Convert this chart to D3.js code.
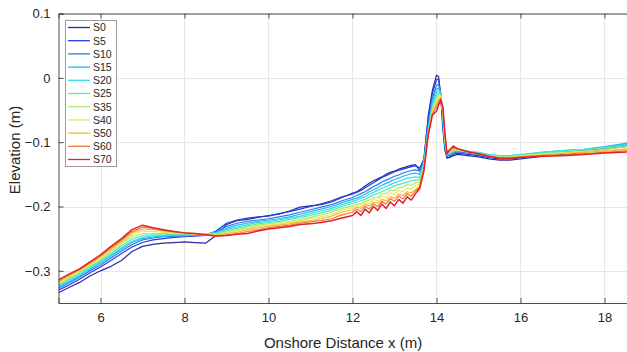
<!DOCTYPE html>
<html>
<head>
<meta charset="utf-8">
<script src="https://cdn.jsdelivr.net/npm/d3@7"></script>
<style>
  html, body { margin: 0; padding: 0; background: #fff; }
  svg { display: block; }
  text { font-family: "Liberation Sans", Arial, Helvetica, sans-serif; }
</style>
</head>
<body>
<svg id="chart" width="627" height="352"></svg>
<script>
// Onshore distance (m) at which each survey profile is sampled
const xs = [5.0,5.25,5.5,5.75,6.0,6.25,6.5,6.75,7.0,7.25,7.5,7.75,8.0,8.25,8.5,8.75,9.0,9.25,9.5,9.75,10.0,10.25,10.5,10.75,11.0,11.25,11.5,11.75,12.0,
  12.1,12.2,12.3,12.4,12.5,12.6,12.7,12.8,12.9,13.0,13.1,13.2,13.3,13.4,13.5,13.6,13.7,13.8,13.9,
  14.0,14.05,14.1,14.15,14.2,14.25,14.3,14.4,14.5,14.75,15.0,15.25,15.5,15.75,16.0,16.5,17.0,17.5,18.0,18.6];

const seriesNames = ["S0","S5","S10","S15","S20","S25","S35","S40","S50","S60","S70"];
const seriesColors = ["#2a2aa0","#1f3fe0","#2a7ae6","#2cb2f2","#2ee2ee","#58e6b4","#a8ee72","#f2e64c","#f4b43a","#f07838","#e0222a"];

// Bed elevation (m) for each survey, one value per xs entry
const S0 = [-0.334,-0.326,-0.318,-0.308,-0.300,-0.293,-0.284,-0.270,-0.262,-0.259,-0.257,-0.256,-0.255,-0.256,-0.257,
  -0.245,-0.228,-0.222,-0.220,-0.217,-0.214,-0.212,-0.207,-0.201,-0.199,-0.197,-0.193,-0.186,-0.179,
  -0.177,-0.173,-0.168,-0.164,-0.160,-0.157,-0.154,-0.150,-0.147,-0.145,-0.142,-0.140,-0.138,-0.136,-0.135,-0.144,-0.128,-0.060,-0.020,
  0.004,0.002,-0.028,-0.078,-0.112,-0.125,-0.124,-0.121,-0.119,-0.121,-0.123,-0.126,-0.128,-0.128,-0.126,-0.122,-0.119,-0.116,-0.111,-0.105];
const S5 = [-0.330,-0.322,-0.313,-0.303,-0.294,-0.284,-0.273,-0.263,-0.256,-0.252,-0.250,-0.248,-0.247,-0.246,-0.245,
  -0.238,-0.226,-0.221,-0.218,-0.216,-0.215,-0.211,-0.208,-0.204,-0.200,-0.196,-0.191,-0.185,-0.181,
  -0.178,-0.175,-0.171,-0.167,-0.163,-0.159,-0.155,-0.152,-0.149,-0.146,-0.144,-0.142,-0.140,-0.138,-0.137,-0.140,-0.126,-0.066,-0.025,
  -0.003,-0.002,-0.026,-0.072,-0.110,-0.124,-0.123,-0.119,-0.117,-0.119,-0.121,-0.124,-0.126,-0.126,-0.124,-0.120,-0.117,-0.114,-0.109,-0.103];
const S10 = [-0.327,-0.319,-0.310,-0.300,-0.291,-0.280,-0.269,-0.259,-0.252,-0.249,-0.247,-0.246,-0.246,-0.245,-0.244,
  -0.239,-0.231,-0.226,-0.223,-0.221,-0.219,-0.216,-0.213,-0.209,-0.205,-0.201,-0.197,-0.191,-0.186,
  -0.183,-0.180,-0.177,-0.173,-0.169,-0.166,-0.162,-0.159,-0.156,-0.153,-0.151,-0.148,-0.146,-0.144,-0.143,-0.145,-0.128,-0.072,-0.032,
  -0.012,-0.010,-0.024,-0.066,-0.106,-0.122,-0.121,-0.117,-0.115,-0.117,-0.119,-0.122,-0.124,-0.124,-0.122,-0.118,-0.115,-0.112,-0.108,-0.102];
const S15 = [-0.325,-0.317,-0.308,-0.298,-0.288,-0.277,-0.266,-0.256,-0.250,-0.247,-0.246,-0.245,-0.245,-0.244,-0.243,
  -0.240,-0.234,-0.229,-0.226,-0.223,-0.221,-0.219,-0.216,-0.212,-0.208,-0.204,-0.200,-0.194,-0.189,
  -0.187,-0.184,-0.181,-0.177,-0.174,-0.171,-0.167,-0.164,-0.161,-0.158,-0.156,-0.153,-0.151,-0.149,-0.148,-0.150,-0.130,-0.078,-0.038,
  -0.018,-0.016,-0.022,-0.060,-0.102,-0.120,-0.119,-0.115,-0.113,-0.115,-0.117,-0.120,-0.122,-0.122,-0.120,-0.116,-0.113,-0.111,-0.107,-0.101];
const S20 = [-0.323,-0.315,-0.306,-0.296,-0.286,-0.275,-0.264,-0.254,-0.248,-0.246,-0.245,-0.244,-0.244,-0.244,-0.243,
  -0.241,-0.236,-0.232,-0.228,-0.225,-0.223,-0.221,-0.218,-0.215,-0.211,-0.207,-0.203,-0.197,-0.192,
  -0.190,-0.187,-0.185,-0.181,-0.178,-0.175,-0.172,-0.169,-0.166,-0.163,-0.161,-0.158,-0.156,-0.155,-0.154,-0.155,-0.132,-0.082,-0.042,
  -0.024,-0.020,-0.023,-0.056,-0.100,-0.119,-0.118,-0.114,-0.112,-0.114,-0.116,-0.119,-0.121,-0.121,-0.119,-0.116,-0.113,-0.111,-0.108,-0.103];
const S25 = [-0.322,-0.313,-0.304,-0.294,-0.284,-0.273,-0.261,-0.251,-0.245,-0.244,-0.244,-0.243,-0.243,-0.243,-0.243,
  -0.242,-0.238,-0.234,-0.230,-0.227,-0.225,-0.223,-0.220,-0.217,-0.214,-0.210,-0.206,-0.200,-0.195,
  -0.193,-0.191,-0.189,-0.185,-0.182,-0.180,-0.177,-0.174,-0.171,-0.168,-0.166,-0.164,-0.162,-0.160,-0.159,-0.158,-0.135,-0.085,-0.046,
  -0.028,-0.024,-0.025,-0.054,-0.098,-0.119,-0.117,-0.113,-0.112,-0.114,-0.117,-0.120,-0.122,-0.122,-0.120,-0.117,-0.114,-0.112,-0.109,-0.105];
const S35 = [-0.320,-0.311,-0.302,-0.292,-0.282,-0.270,-0.258,-0.247,-0.242,-0.242,-0.242,-0.242,-0.242,-0.243,-0.243,
  -0.243,-0.240,-0.236,-0.232,-0.229,-0.227,-0.225,-0.223,-0.220,-0.217,-0.213,-0.209,-0.203,-0.199,
  -0.196,-0.196,-0.192,-0.190,-0.186,-0.186,-0.181,-0.180,-0.175,-0.175,-0.171,-0.170,-0.166,-0.167,-0.163,-0.162,-0.138,-0.088,-0.050,
  -0.032,-0.028,-0.027,-0.052,-0.096,-0.118,-0.116,-0.112,-0.112,-0.115,-0.118,-0.121,-0.123,-0.123,-0.121,-0.118,-0.116,-0.114,-0.111,-0.107];
const S40 = [-0.318,-0.309,-0.300,-0.290,-0.280,-0.268,-0.256,-0.244,-0.238,-0.239,-0.240,-0.241,-0.242,-0.243,-0.244,
  -0.244,-0.241,-0.238,-0.234,-0.231,-0.229,-0.227,-0.225,-0.222,-0.219,-0.216,-0.212,-0.206,-0.202,
  -0.198,-0.200,-0.194,-0.195,-0.189,-0.191,-0.184,-0.186,-0.179,-0.181,-0.175,-0.177,-0.171,-0.173,-0.167,-0.165,-0.140,-0.090,-0.053,
  -0.036,-0.031,-0.029,-0.050,-0.094,-0.118,-0.116,-0.111,-0.112,-0.115,-0.118,-0.122,-0.124,-0.124,-0.122,-0.119,-0.117,-0.115,-0.113,-0.109];
const S50 = [-0.317,-0.308,-0.299,-0.289,-0.278,-0.266,-0.254,-0.241,-0.235,-0.236,-0.238,-0.240,-0.241,-0.243,-0.244,
  -0.245,-0.242,-0.240,-0.236,-0.233,-0.231,-0.229,-0.227,-0.224,-0.222,-0.219,-0.215,-0.209,-0.205,
  -0.201,-0.203,-0.197,-0.199,-0.193,-0.195,-0.189,-0.191,-0.185,-0.187,-0.181,-0.183,-0.177,-0.179,-0.173,-0.168,-0.142,-0.090,-0.055,
  -0.040,-0.034,-0.031,-0.048,-0.090,-0.118,-0.115,-0.110,-0.111,-0.115,-0.118,-0.122,-0.124,-0.124,-0.123,-0.120,-0.118,-0.116,-0.114,-0.111];
const S60 = [-0.315,-0.306,-0.298,-0.287,-0.277,-0.264,-0.252,-0.239,-0.232,-0.234,-0.237,-0.239,-0.241,-0.242,-0.244,
  -0.246,-0.244,-0.242,-0.239,-0.236,-0.233,-0.231,-0.229,-0.226,-0.224,-0.222,-0.219,-0.213,-0.209,
  -0.204,-0.208,-0.200,-0.204,-0.196,-0.200,-0.192,-0.196,-0.188,-0.192,-0.184,-0.188,-0.180,-0.184,-0.176,-0.170,-0.140,-0.088,-0.057,
  -0.045,-0.037,-0.032,-0.046,-0.088,-0.118,-0.114,-0.108,-0.111,-0.115,-0.118,-0.122,-0.125,-0.125,-0.123,-0.121,-0.120,-0.118,-0.116,-0.113];
const S70 = [-0.314,-0.305,-0.297,-0.286,-0.275,-0.262,-0.250,-0.236,-0.229,-0.233,-0.236,-0.239,-0.241,-0.242,-0.244,
  -0.246,-0.245,-0.243,-0.242,-0.238,-0.235,-0.233,-0.231,-0.228,-0.227,-0.225,-0.222,-0.218,-0.214,
  -0.208,-0.214,-0.204,-0.210,-0.200,-0.206,-0.196,-0.203,-0.193,-0.199,-0.189,-0.195,-0.185,-0.190,-0.180,-0.172,-0.145,-0.090,-0.058,
  -0.052,-0.042,-0.034,-0.045,-0.085,-0.118,-0.113,-0.106,-0.110,-0.115,-0.118,-0.122,-0.125,-0.125,-0.124,-0.122,-0.121,-0.119,-0.117,-0.115];

const seriesValues = [S0, S5, S10, S15, S20, S25, S35, S40, S50, S60, S70];

const xTicks = [6, 8, 10, 12, 14, 16, 18];
const yTicks = [0.1, 0, -0.1, -0.2, -0.3];

const svg = d3.select("#chart");
const plotLeft = 58.5, plotTop = 13.5, plotBottom = 303;
const xScale = d3.scaleLinear().domain([5, 18.6]).range([plotLeft, plotLeft + 13.6 * 42]);
const yScale = d3.scaleLinear().domain([-0.35, 0.1]).range([plotBottom, plotTop]);
const plotRight = xScale.range()[1];

// grid
const grid = svg.append("g").attr("stroke", "#e6e6e6").attr("stroke-width", 1);
xTicks.forEach(t => grid.append("line")
  .attr("x1", Math.round(xScale(t)) + 0.5).attr("x2", Math.round(xScale(t)) + 0.5)
  .attr("y1", plotTop).attr("y2", plotBottom));
yTicks.forEach(t => grid.append("line")
  .attr("y1", Math.round(yScale(t)) + 0.5).attr("y2", Math.round(yScale(t)) + 0.5)
  .attr("x1", plotLeft).attr("x2", plotRight));

// profiles
svg.append("clipPath").attr("id", "plotclip").append("rect")
  .attr("x", plotLeft).attr("y", plotTop).attr("width", plotRight - plotLeft).attr("height", plotBottom - plotTop);

const line = d3.line().x((d, i) => xScale(xs[i])).y(d => yScale(d)).curve(d3.curveLinear);
const lines = svg.append("g").attr("clip-path", "url(#plotclip)");
seriesValues.forEach((vals, k) => {
  lines.append("path").datum(vals)
    .attr("d", line)
    .attr("fill", "none")
    .attr("stroke", seriesColors[k])
    .attr("stroke-width", k === seriesValues.length - 1 ? 1.5 : 1.2)
    .attr("stroke-linejoin", "round");
});

// axes (box with inward ticks)
const axisColor = "#4d4d4d";
const xAxis = d3.axisBottom(xScale).tickValues(xTicks).tickSize(-5).tickPadding(10).tickFormat(d3.format("d"));
const yAxis = d3.axisLeft(yScale).tickValues(yTicks).tickSize(-5).tickPadding(8).tickFormat(d => d === 0 ? "0" : d3.format(".1f")(d));

const gx = svg.append("g").attr("transform", `translate(0,${plotBottom})`).call(xAxis);
const gy = svg.append("g").attr("transform", `translate(${plotLeft},0)`).call(yAxis);
const gxTop = svg.append("g").attr("transform", `translate(0,${plotTop})`)
  .call(d3.axisTop(xScale).tickValues(xTicks).tickSize(-5).tickFormat(""));
[gx, gy, gxTop].forEach(g => {
  g.selectAll("path.domain").attr("stroke", axisColor).attr("stroke-width", 1);
  g.selectAll(".tick line").attr("stroke", axisColor);
  g.selectAll(".tick text").attr("fill", "#262626").attr("font-size", 13)
    .attr("font-family", "'Liberation Sans', Arial, sans-serif");
});

// axis titles
svg.append("text")
  .attr("x", (plotLeft + plotRight) / 2 - 1).attr("y", 348)
  .attr("text-anchor", "middle").attr("font-size", 15).attr("fill", "#262626")
  .text("Onshore Distance x (m)");
svg.append("text")
  .attr("transform", `translate(20,150) rotate(-90)`)
  .attr("text-anchor", "middle").attr("font-size", 15).attr("fill", "#262626")
  .text("Elevation (m)");

// legend
const leg = svg.append("g");
leg.append("rect").attr("x", 65.5).attr("y", 20.5).attr("width", 51).attr("height", 146)
  .attr("fill", "#fff").attr("stroke", "#9a9a9a").attr("stroke-width", 1);
seriesNames.forEach((name, k) => {
  const yy = 27.5 + k * 13.2;
  leg.append("line").attr("x1", 68).attr("x2", 90).attr("y1", yy).attr("y2", yy)
    .attr("stroke", seriesColors[k]).attr("stroke-width", 1.3);
  leg.append("text").attr("x", 93).attr("y", yy + 3.8)
    .attr("font-size", 10.5).attr("fill", "#262626").text(name);
});
</script>
</body>
</html>
